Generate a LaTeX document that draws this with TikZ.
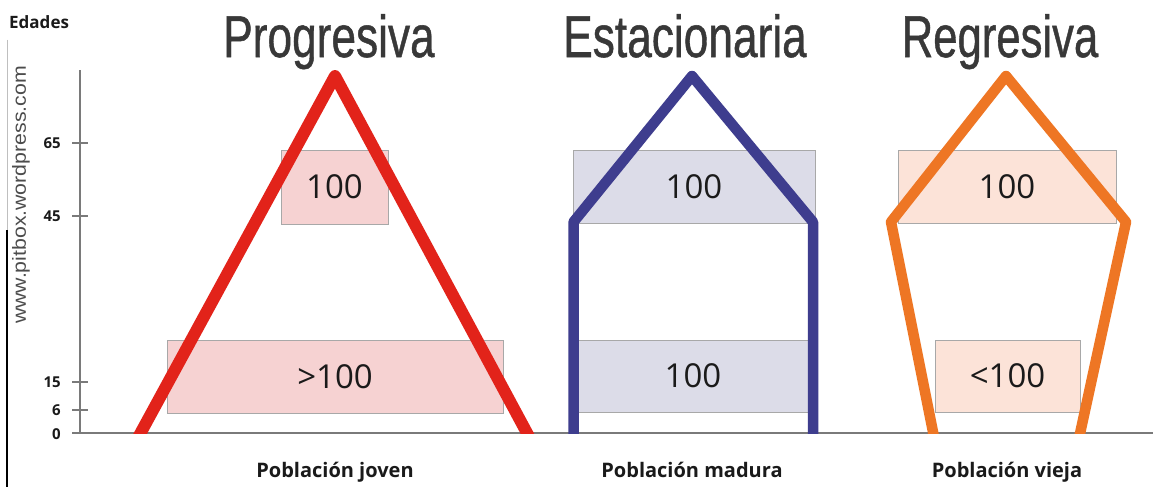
\documentclass[tikz,border=0pt]{standalone}
\usepackage{fontspec}
\setmainfont{Open Sans}
\newfontfamily\titlefont[FakeBold=0.9]{Liberation Sans}
\newfontfamily\wmfont{Liberation Sans}
\definecolor{pred}{HTML}{E2231A}
\definecolor{predfill}{HTML}{F6D2D2}
\definecolor{pblue}{HTML}{3E3D8E}
\definecolor{pbluefill}{HTML}{DCDCE8}
\definecolor{porange}{HTML}{EE7624}
\definecolor{porangefill}{HTML}{FCE3D8}
\definecolor{boxline}{HTML}{A8A8A8}
\definecolor{axisgray}{HTML}{7A7A7A}
\definecolor{titlegray}{HTML}{383838}
\definecolor{textdark}{HTML}{1A1A1A}
\begin{document}
\begin{tikzpicture}[x=1pt,y=-1pt,
  databox/.style={draw=boxline, line width=1pt, inner sep=0pt, text=textdark,
    font=\fontsize{33}{36}\selectfont},
  titletext/.style={anchor=base, text=titlegray},
  poplabel/.style={anchor=base, text=textdark, font=\bfseries\fontsize{20}{22}\selectfont},
  ticklabel/.style={anchor=east, text=textdark, font=\bfseries\fontsize{15}{17}\selectfont, inner sep=0pt},
  axisline/.style={draw=axisgray, line width=2pt},
  popshape/.style={line width=#1, line join=round}
]
\useasboundingbox (0,0) rectangle (1153,487);
\fill[white] (0,0) rectangle (1153,487);

% left border and watermark
\draw[draw=black!25, line width=1pt] (7,40) -- (7,230);
\draw[draw=black, line width=1.6pt] (7,230) -- (7,487);
\node[rotate=90, text=black!70, inner sep=0pt] (wm) at (21,195)
  {\wmfont\fontsize{19}{21}\selectfont\scalebox{1.12}[1]{www.pitbox.wordpress.com}};
\node[anchor=base west, text=textdark, inner sep=0pt, font=\bfseries\fontsize{17}{20}\selectfont] (edades) at (9,29) {Edades};

% axis
\coordinate (atop) at (80,70);
\coordinate (aorig) at (80,433);
\coordinate (bleft) at (72,433);
\coordinate (bright) at (1153,433);
\draw[axisline] (atop) -- (aorig);
\draw[axisline] (bleft) -- (bright);
\foreach \yy/\lab/\nm in {143/65/t65, 216/45/t45, 382/15/t15, 410/6/t6} {
  \draw[axisline] (72,\yy) -- (88,\yy);
  \node[ticklabel] (\nm) at (61,\yy) {\lab};
}
\node[ticklabel] (t0) at (61,434) {0};

% titles
\node[titletext] (tprog) at (329,57) {\titlefont\fontsize{59}{60}\selectfont\scalebox{0.75}[1]{Progresiva}};
\node[titletext] (testa) at (685,57) {\titlefont\fontsize{59}{60}\selectfont\scalebox{0.75}[1]{Estacionaria}};
\node[titletext] (tregr) at (1000,57) {\titlefont\fontsize{59}{60}\selectfont\scalebox{0.74}[1]{Regresiva}};

% boxes
\node[databox, fill=predfill, minimum width=107pt, minimum height=74pt] (pa) at (334.5,187) {100};
\node[databox, fill=predfill, minimum width=336pt, minimum height=73pt] (pb) at (335,376.5) {>100};
\node[databox, fill=pbluefill, minimum width=242pt, minimum height=73pt] (ea) at (694,186.5) {100};
\node[databox, fill=pbluefill, minimum width=240pt, minimum height=72pt] (eb) at (693,376) {100};
\node[databox, fill=porangefill, minimum width=218pt, minimum height=73pt] (ra) at (1007,186.5) {100};
\node[databox, fill=porangefill, minimum width=145pt, minimum height=72pt] (rb) at (1007.5,376) {<100};

% population shapes
\begin{scope}
\clip (0,0) rectangle (1153,433);
\draw[popshape=12pt, draw=pred] (133.5,446) -- (335,76) -- (534,446);
\draw[popshape=10.5pt, draw=pblue] (573.5,446) -- (573.5,222) -- (692,76) -- (813,222) -- (813,446);
\draw[popshape=10.5pt, draw=porange] (935.8,446) -- (891,222) -- (1006,76) -- (1126,222) -- (1077.3,446);
\end{scope}

% bottom labels
\node[poplabel] (ljov) at (335,477) {Población joven};
\node[poplabel] (lmad) at (692,477) {Población madura};
\node[poplabel] (lvie) at (1007,477) {Población vieja};
\end{tikzpicture}
\end{document}
